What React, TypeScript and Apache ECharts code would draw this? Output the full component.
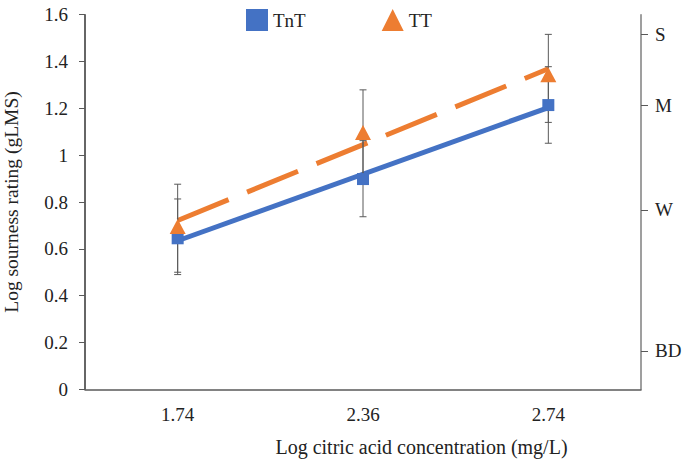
import React, { useEffect, useRef } from "react";
import * as echarts from "echarts";

const categories = ["1.74", "2.36", "2.74"];
const tntValues = [0.645, 0.898, 1.214];
const ttValues = [0.695, 1.097, 1.343];
const tntLow = [0.49, 0.737, 1.051];
const tntHigh = [0.813, 1.062, 1.378];
const ttLow = [0.5, 0.915, 1.14];
const ttHigh = [0.876, 1.279, 1.516];
const rightLabels = ["BD", "W", "M", "S"];
const rightLabelValues = [0.164, 0.766, 1.214, 1.516];

const FONT = "'Liberation Serif', 'Times New Roman', serif";
const BLUE = "#4472C4";
const ORANGE = "#ED7D31";
const TEXT = "#222";

function trend(vals: number[]) {
  const n = vals.length;
  let sx = 0, sy = 0, sxx = 0, sxy = 0;
  vals.forEach((v, i) => {
    sx += i; sy += v; sxx += i * i; sxy += i * v;
  });
  const slope = (n * sxy - sx * sy) / (n * sxx - sx * sx);
  const icpt = (sy - slope * sx) / n;
  return [
    [categories[0], icpt],
    [categories[n - 1], icpt + slope * (n - 1)],
  ];
}

function errorData(lo: number[], hi: number[]) {
  return lo.map((l, i) => [i, l, hi[i]]);
}

const errRender = (params: any, api: any) => {
  const x = api.value(0);
  const pLo = api.coord([x, api.value(1)]);
  const pHi = api.coord([x, api.value(2)]);
  const w = 3.5;
  const style = { stroke: "#595959", lineWidth: 1 };
  return {
    type: "group",
    children: [
      { type: "line", shape: { x1: pLo[0], y1: pLo[1], x2: pHi[0], y2: pHi[1] }, style },
      { type: "line", shape: { x1: pLo[0] - w, y1: pLo[1], x2: pLo[0] + w, y2: pLo[1] }, style },
      { type: "line", shape: { x1: pHi[0] - w, y1: pHi[1], x2: pHi[0] + w, y2: pHi[1] }, style },
    ],
  };
};

export default function App() {
  const ref = useRef<HTMLDivElement>(null);
  useEffect(() => {
    if (!ref.current) return;
    const chart = echarts.init(ref.current, null, { renderer: "svg" });
    chart.setOption({
      animation: false,
      backgroundColor: "#fff",
      textStyle: { fontFamily: FONT },
      grid: { left: 85, right: 44, top: 14.7, bottom: 71.7, outerBoundsMode: "none", containLabel: false },
      legend: {
        left: 241,
        top: 4,
        itemWidth: 22,
        itemHeight: 22,
        itemGap: 76,
        textStyle: { fontFamily: FONT, fontSize: 19, color: TEXT },
        data: [
          { name: "TnT", icon: "rect", itemStyle: { color: BLUE, opacity: 1 } },
          { name: "TT", icon: "triangle", itemStyle: { color: ORANGE, opacity: 1 } },
        ],
      },
      xAxis: {
        type: "category",
        data: categories,
        boundaryGap: true,
        name: "Log citric acid concentration (mg/L)",
        nameLocation: "middle",
        nameGap: 48,
        nameTextStyle: { fontFamily: FONT, fontSize: 20, color: TEXT, padding: [0, 0, 0, 117] },
        axisLine: { lineStyle: { color: "#595959", width: 1.5 } },
        axisTick: { show: false },
        axisLabel: { fontFamily: FONT, fontSize: 19, color: TEXT, margin: 16 },
        splitLine: { show: false },
      },
      yAxis: [
        {
          type: "value",
          min: 0,
          max: 1.6,
          interval: 0.2,
          name: "Log sourness rating (gLMS)",
          nameLocation: "middle",
          nameGap: 64,
          nameTextStyle: { fontFamily: FONT, fontSize: 19.5, color: TEXT },
          axisLine: { show: true, lineStyle: { color: "#333", width: 1.5 } },
          axisTick: { show: true, length: 6, lineStyle: { color: "#595959" } },
          axisLabel: {
            fontFamily: FONT,
            fontSize: 19,
            color: TEXT,
            margin: 17,
            formatter: (v: number) => String(Math.round(v * 10) / 10),
          },
          splitLine: { show: false },
        },
        {
          type: "value",
          position: "right",
          min: 0,
          max: 1.6,
          axisLine: { show: true, lineStyle: { color: "#7f7f7f", width: 1.5 } },
          axisTick: {
            show: true,
            length: 7,
            customValues: rightLabelValues,
            lineStyle: { color: "#595959" },
          },
          axisLabel: {
            fontFamily: FONT,
            fontSize: 19,
            color: TEXT,
            margin: 14,
            customValues: rightLabelValues,
            formatter: (v: number) => {
              let best = 0;
              rightLabelValues.forEach((rv, i) => {
                if (Math.abs(rv - v) < Math.abs(rightLabelValues[best] - v)) best = i;
              });
              return rightLabels[best];
            },
          },
          splitLine: { show: false },
        },
      ],
      series: [
        {
          name: "TnT trend",
          type: "line",
          data: trend(tntValues),
          showSymbol: false,
          lineStyle: { color: BLUE, width: 5 },
          z: 2,
        },
        {
          name: "TT trend",
          type: "line",
          data: trend(ttValues),
          showSymbol: false,
          lineStyle: { color: ORANGE, width: 5, type: [55, 20] },
          z: 2,
        },
        {
          name: "TnT err",
          type: "custom",
          renderItem: errRender,
          data: errorData(tntLow, tntHigh),
          encode: { x: 0, y: [1, 2] },
          z: 3,
        },
        {
          name: "TT err",
          type: "custom",
          renderItem: errRender,
          data: errorData(ttLow, ttHigh),
          encode: { x: 0, y: [1, 2] },
          z: 3,
        },
        {
          name: "TnT",
          type: "scatter",
          symbol: "rect",
          symbolSize: 12,
          itemStyle: { color: BLUE, opacity: 1 },
          data: categories.map((c, i) => [c, tntValues[i]]),
          z: 4,
        },
        {
          name: "TT",
          type: "scatter",
          symbol: "triangle",
          symbolSize: [16, 15],
          itemStyle: { color: ORANGE, opacity: 1 },
          data: categories.map((c, i) => [c, ttValues[i]]),
          z: 4,
        },
      ],
    });
    return () => chart.dispose();
  }, []);
  return <div ref={ref} style={{ width: 685, height: 461, position: "absolute", left: 0, top: 0 }} />;
}
